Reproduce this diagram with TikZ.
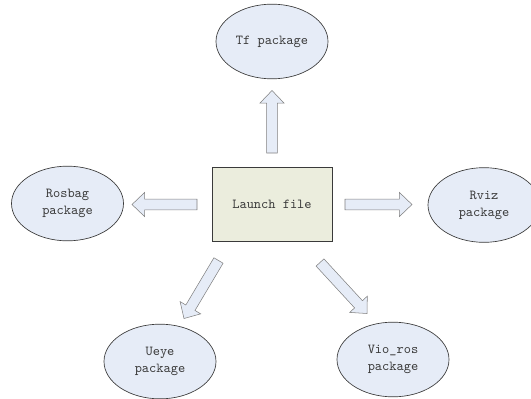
\documentclass[tikz,border=0pt]{standalone}
\usetikzlibrary{calc,shapes.geometric}

\definecolor{pkgfill}{HTML}{E6ECF7}
\definecolor{boxfill}{HTML}{EBEDDD}
\definecolor{inkgray}{HTML}{3A3A3A}

% block arrow from tail #1 to tip #2
\newcommand{\fatarrow}[2]{%
	\coordinate (hb) at ($(#2)!9.4pt!(#1)$);
	\filldraw[fatarrow] ($(#1)!4pt!90:(#2)$) -- ($(hb)!4pt!90:(#2)$) -- ($(hb)!9pt!90:(#2)$) -- (#2)
		-- ($(hb)!9pt!-90:(#2)$) -- ($(hb)!4pt!-90:(#2)$) -- ($(#1)!4pt!-90:(#2)$) -- cycle;}

\begin{document}
\begin{tikzpicture}[x=0.75pt, y=-0.75pt,
						every node/.style={font=\ttfamily\fontsize{10.3}{12.6}\selectfont, text=inkgray},
						pkg/.style={ellipse, draw=inkgray, fill=pkgfill, line width=0.5pt, minimum width=84pt, minimum height=56pt, inner sep=0pt, align=center},
						launchbox/.style={rectangle, draw=inkgray, fill=boxfill, line width=0.6pt, minimum width=90pt, minimum height=55pt},
						fatarrow/.style={draw=gray, fill=pkgfill, line width=0.4pt, line join=miter},
					]
					\useasboundingbox (0,0) rectangle (531,399);

					\node[launchbox] (launch) at (272,204.5) {Launch file};
					\node[pkg] (tf) at (272,41.5) {Tf package};
					\node[pkg] (rosbag) at (67.5,203.5) {Rosbag\\package};
					\node[pkg] (rviz) at (484,205) {Rviz\\package};
					\node[pkg] (ueye) at (160,361.5) {Ueye\\package};
					\node[pkg] (vio) at (393,359.5) {Vio\_ros\\package};

					% arrow ends
					\coordinate (tfT) at (272,153);    \coordinate (tfH) at (272,90.5);
					\coordinate (rbT) at (197,204.5);  \coordinate (rbH) at (132,204.5);
					\coordinate (rvT) at (345,204.5);  \coordinate (rvH) at (412,204.5);
					\coordinate (ueT) at (218.5,260.5); \coordinate (ueH) at (184,318.5);
					\coordinate (viT) at (320,262.5);  \coordinate (viH) at (367,313.5);

					\fatarrow{tfT}{tfH}
					\fatarrow{rbT}{rbH}
					\fatarrow{rvT}{rvH}
					\fatarrow{ueT}{ueH}
					\fatarrow{viT}{viH}

				\end{tikzpicture}
\end{document}
